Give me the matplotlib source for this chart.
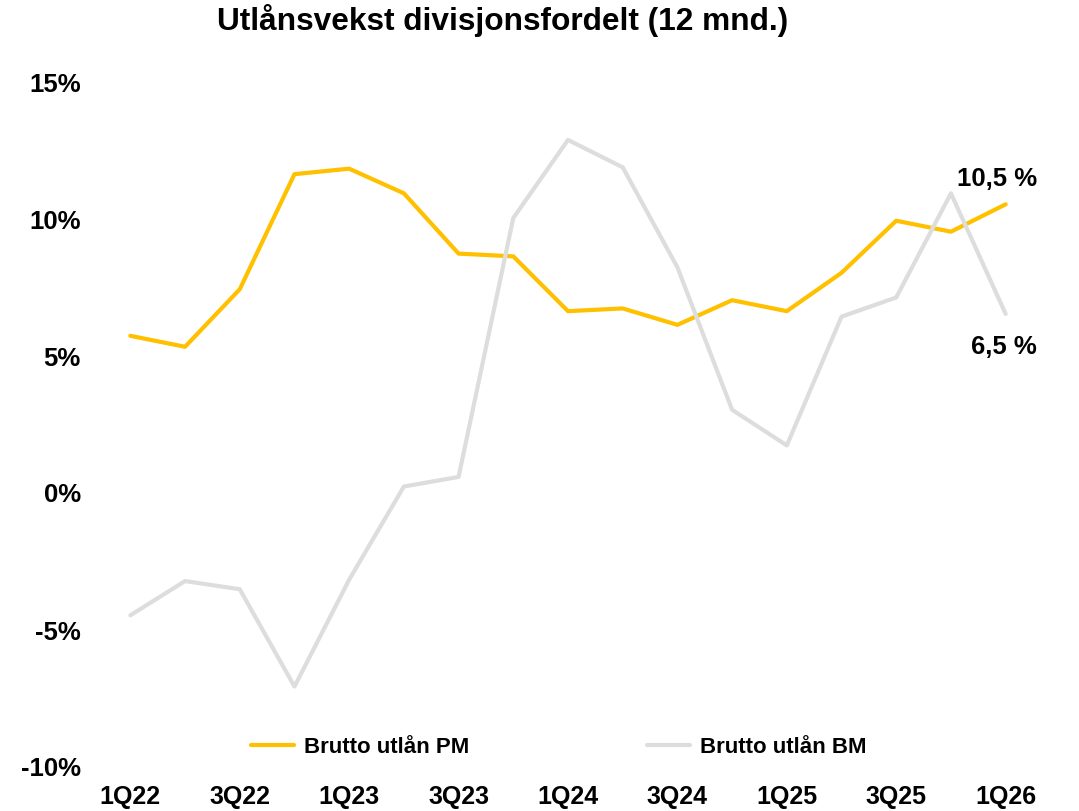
import matplotlib.pyplot as plt
import numpy as np

plt.rcParams['font.family'] = ['Liberation Sans', 'DejaVu Sans']
plt.rcParams['font.weight'] = 'bold'

quarters = ['1Q22', '2Q22', '3Q22', '4Q22', '1Q23', '2Q23', '3Q23', '4Q23',
            '1Q24', '2Q24', '3Q24', '4Q24', '1Q25', '2Q25', '3Q25', '4Q25', '1Q26']
pm = [5.7, 5.3, 7.4, 11.6, 11.8, 10.9, 8.7, 8.6,
      6.6, 6.7, 6.1, 7.0, 6.6, 8.0, 9.9, 9.5, 10.5]
bm = [-4.5, -3.25, -3.55, -7.1, -3.2, 0.2, 0.55, 10.0,
      12.85, 11.85, 8.2, 3.0, 1.7, 6.4, 7.1, 10.9, 6.5]
y_ticks = [-10, -5, 0, 5, 10, 15]

fig = plt.figure(figsize=(10.79, 8.12), dpi=100)
ax = fig.add_axes([103 / 1079, 1 - 767 / 812, 930 / 1079, 685 / 812])

x = np.arange(len(quarters))
ax.plot(x, pm, color='#FFC000', lw=3, solid_capstyle='round', label='Brutto utlån PM')
ax.plot(x, bm, color='#DDDDDD', lw=3, solid_capstyle='round', label='Brutto utlån BM')

ax.set_xlim(-0.5, len(quarters) - 0.5)
ax.set_ylim(-10, 15)
ax.set_yticks(y_ticks)
ax.set_yticklabels([f'{v}%' for v in y_ticks], fontsize=18.5, fontweight='bold')
ax.set_xticks(x[::2])
ax.set_xticklabels(quarters[::2], fontsize=18, fontweight='bold')
ax.tick_params(length=0)
ax.tick_params(axis='x', pad=13)
ax.tick_params(axis='y', pad=16)
for s in ax.spines.values():
    s.set_visible(False)

ax.annotate(f'{pm[-1]:.1f} %'.replace('.', ','), (x[-1], pm[-1]), xytext=(-6.5, 18.7),
            textcoords='offset points', ha='center', va='center', fontsize=18.5, fontweight='bold')
ax.annotate(f'{bm[-1]:.1f} %'.replace('.', ','), (x[-1], bm[-1]), xytext=(-1.5, -23),
            textcoords='offset points', ha='center', va='center', fontsize=18.5, fontweight='bold')

leg = ax.legend(loc='center', bbox_to_anchor=(0.49, 0.028), ncol=2, frameon=False,
                fontsize=16, handlelength=1.95, columnspacing=8.0, handletextpad=0.45)
for t in leg.get_texts():
    t.set_fontweight('bold')

fig.suptitle('Utlånsvekst divisjonsfordelt (12 mnd.)', x=0.466, y=0.995, fontsize=22.8, fontweight='bold')

fig.savefig('out.png', dpi=100)
